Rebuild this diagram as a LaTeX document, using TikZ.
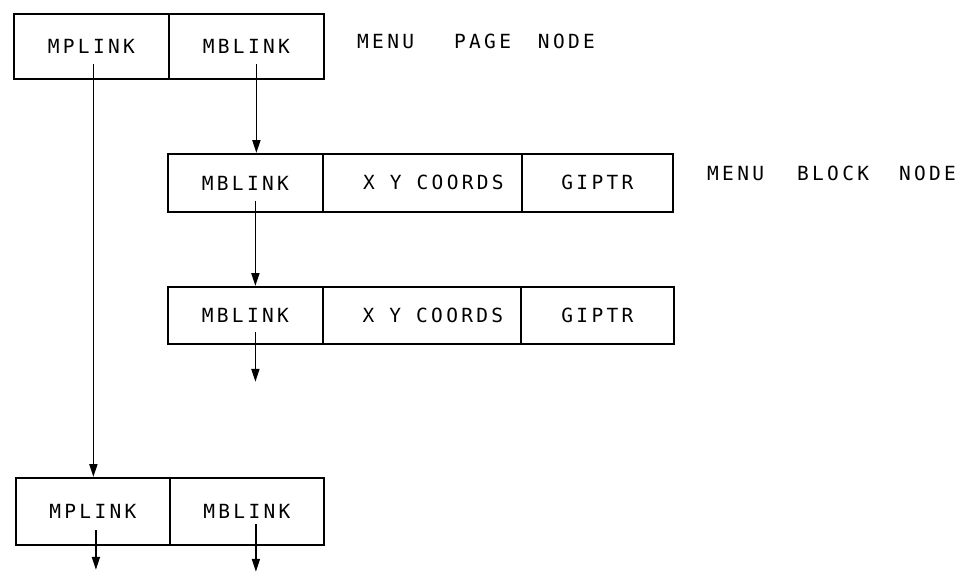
\documentclass[tikz,border=0pt]{standalone}
\usepackage{fontspec}
\usetikzlibrary{arrows.meta}
% plotter-like lettering: evenly pitched capitals
\newfontfamily\cellfont[LetterSpace=17,WordSpace=1.0]{DejaVu Sans Mono}
\begin{document}
\begin{tikzpicture}[x=1pt,y=-1pt,
  cell/.style={draw, line width=1.8pt, inner sep=0pt, anchor=north west,
    font=\cellfont\fontsize{19.5}{21}\selectfont},
  pagerow/.style={cell, minimum height=65pt},
  blockrow/.style={cell, minimum height=58pt},
  link/.style={line width=1.8pt, -{Triangle[length=13pt,width=8pt]}},
  note/.style={anchor=west, inner sep=0pt,
    font=\cellfont\fontsize{19.5}{21}\selectfont}]
\useasboundingbox (0,0) rectangle (978,578);

% menu page node
\node[pagerow, minimum width=155pt] (a1) at (13,13)  {MPLINK};
\node[pagerow, minimum width=155pt] (b1) at (168,13) {MBLINK};
\node[note] (pagelabel) at (357,41) {MENU\hspace{40pt}PAGE\hspace{27pt}NODE};

% first menu block node
\node[blockrow, minimum width=155pt] (m2) at (167,153) {MBLINK};
\node[blockrow, minimum width=199pt] (c2) at (322,153) {\hspace*{22pt}X Y COORDS};
\node[blockrow, minimum width=151pt] (g2) at (521,153) {GIPTR};
\node[note] (blocklabel) at (707,173) {MENU\hspace{33pt}BLOCK\hspace{30pt}NODE};

% second menu block node
\node[blockrow, minimum width=155pt, minimum height=57pt] (m3) at (167,286) {MBLINK};
\node[blockrow, minimum width=198pt, minimum height=57pt] (c3) at (322,286) {\hspace*{22pt}X Y COORDS};
\node[blockrow, minimum width=153pt, minimum height=57pt] (g3) at (520,286) {GIPTR};

% next menu page node
\node[pagerow, minimum width=154pt, minimum height=67pt] (a4) at (15,477)  {MPLINK};
\node[pagerow, minimum width=154pt, minimum height=67pt] (b4) at (169,477) {MBLINK};

% loose ends of the chains
\coordinate (m3next) at ([xshift=10pt,yshift=-37pt]m3.south);
\coordinate (a4next) at ([xshift=3pt,yshift=-24pt]a4.south);
\coordinate (b4next) at ([xshift=9pt,yshift=-26pt]b4.south);

% links
\draw[link] ([xshift=2pt,yshift=-18pt]a1.center) -- ([xshift=2pt]a1.center |- a4.north);
\draw[link] ([xshift=10pt,yshift=-18pt]b1.center) -- ([xshift=10pt]b1.center |- m2.north);
\draw[link] ([xshift=10pt,yshift=-18pt]m2.center) -- ([xshift=10pt]m2.center |- m3.north);
\draw[link] ([xshift=10pt,yshift=-17pt]m3.center) -- (m3next);
\draw[link] ([xshift=3pt,yshift=-19pt]a4.center) -- (a4next);
\draw[link] ([xshift=9pt,yshift=-13pt]b4.center) -- (b4next);
\end{tikzpicture}
\end{document}
